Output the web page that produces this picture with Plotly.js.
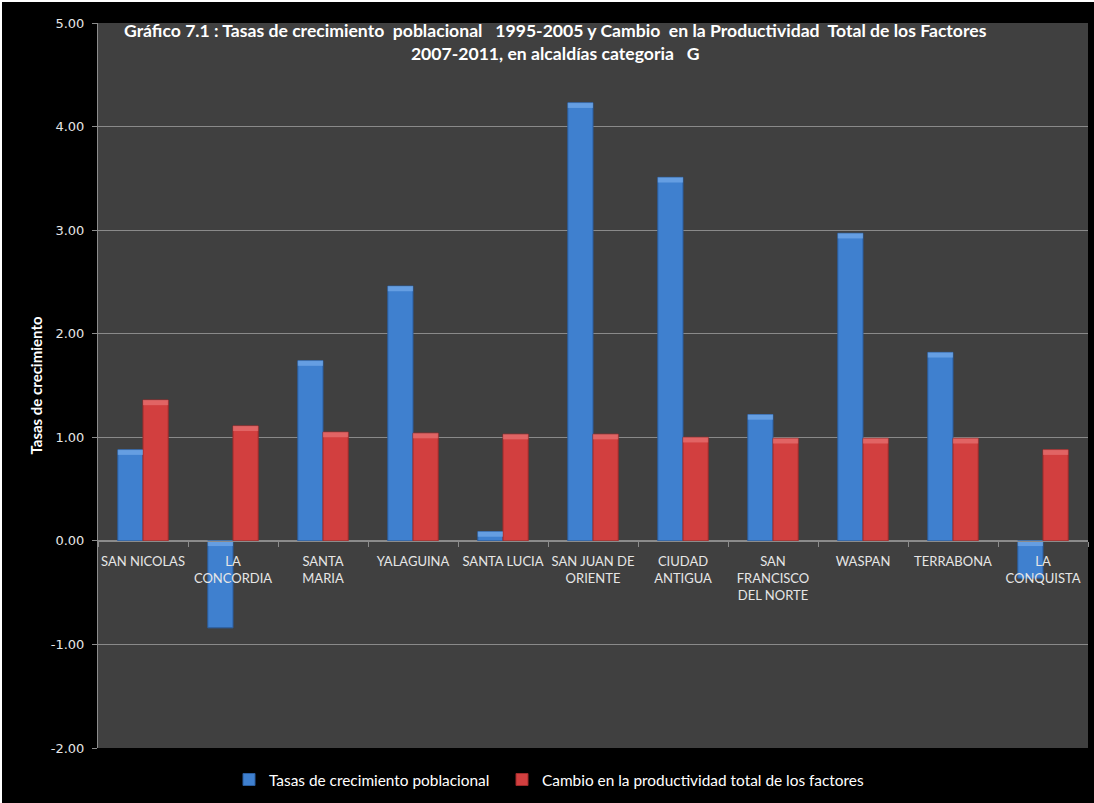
<!DOCTYPE html>
<html>
<head>
<meta charset="utf-8">
<script src="https://cdn.plot.ly/plotly-3.0.1.min.js"></script>
<style>
  html, body { margin: 0; padding: 0; background: #ffffff; }
  #chart { position: absolute; left: 2px; top: 2px; width: 1092px; height: 801px; }
</style>
</head>
<body>
<div id="chart"></div>
<script>
// Alcaldías categoría G
const municipios = [
  "SAN NICOLAS", "LA<br>CONCORDIA", "SANTA<br>MARIA", "YALAGUINA", "SANTA LUCIA",
  "SAN JUAN DE<br>ORIENTE", "CIUDAD<br>ANTIGUA", "SAN<br>FRANCISCO<br>DEL NORTE",
  "WASPAN", "TERRABONA", "LA<br>CONQUISTA"
];

// Tasas de crecimiento poblacional 1995-2005
const crecimiento = [0.88, -0.84, 1.74, 2.46, 0.09, 4.23, 3.51, 1.22, 2.97, 1.82, -0.36];

// Cambio en la productividad total de los factores 2007-2011
const productividad = [1.36, 1.11, 1.05, 1.04, 1.03, 1.03, 1.00, 0.99, 0.99, 0.99, 0.88];

const nombres = ["Tasas de crecimiento poblacional", "Cambio en la productividad total de los factores"];
const tickVals = [-2, -1, 0, 1, 2, 3, 4, 5];
const tickText = ["-2.00", "-1.00", "0.00", "1.00", "2.00", "3.00", "4.00", "5.00"];

const titulo = "Gráfico 7.1 : Tasas de crecimiento\u00a0 poblacional\u00a0\u00a0 1995-2005 y Cambio\u00a0 en la Productividad\u00a0 Total de los Factores<br>2007-2011, en alcaldías categoria\u00a0\u00a0 G";

const azul = "#3f80cf", azulBorde = "#2a5d9e", azulBrillo = "#7fb2ee";
const rojo = "#d23f3f", rojoBorde = "#9e2a2a", rojoBrillo = "#f08a8a";

// thin lighter band at the top edge of each bar (bevel look)
const bandaAlto = 0.05;
function bandaBase(vals) { return vals.map(v => Math.max(v, 0) - bandaAlto); }
function bandaLargo(vals) { return vals.map(() => bandaAlto); }

const traces = [
  {
    type: "bar", name: nombres[0], x: municipios, y: crecimiento,
    offsetgroup: "a", legend: "legend",
    marker: { color: azul, line: { color: azulBorde, width: 1 } },
    hoverinfo: "x+y"
  },
  {
    type: "bar", name: nombres[1], x: municipios, y: productividad,
    offsetgroup: "b", legend: "legend2",
    marker: { color: rojo, line: { color: rojoBorde, width: 1 } },
    hoverinfo: "x+y"
  },
  {
    type: "bar", x: municipios, y: bandaLargo(crecimiento), base: bandaBase(crecimiento),
    offsetgroup: "a", showlegend: false, hoverinfo: "skip",
    marker: { color: azulBrillo, opacity: 0.6, line: { width: 0 } }
  },
  {
    type: "bar", x: municipios, y: bandaLargo(productividad), base: bandaBase(productividad),
    offsetgroup: "b", showlegend: false, hoverinfo: "skip",
    marker: { color: rojoBrillo, opacity: 0.5, line: { width: 0 } }
  }
];

const familia = "Lato, 'Open Sans', sans-serif";

function leyenda(xPix) {
  return {
    orientation: "h",
    xref: "container", yref: "container",
    x: xPix / 1092, xanchor: "left",
    y: 1 - 778 / 801, yanchor: "middle",
    bgcolor: "rgba(0,0,0,0)",
    font: { family: familia, size: 15.4, color: "#ffffff" },
    itemwidth: 30
  };
}

const layout = {
  width: 1092, height: 801,
  paper_bgcolor: "#000000",
  plot_bgcolor: "#404040",
  margin: { l: 96, r: 6, t: 21, b: 55, pad: 0, autoexpand: false },
  barmode: "group",
  bargap: 0.44,
  bargroupgap: 0,
  showlegend: true,
  annotations: [{
    text: titulo,
    xref: "paper", yref: "paper",
    x: (555 - 98) / 990, xanchor: "center",
    y: 1, yanchor: "top", yshift: 5,
    showarrow: false, align: "center",
    font: { family: familia, size: 17.6, color: "#ffffff", weight: "bold" }
  }],
  xaxis: {
    anchor: "free", position: 2 / 7,
    showline: true, linecolor: "#8c8c8c", linewidth: 1.5,
    ticks: "outside", ticklen: 5, tickcolor: "#8c8c8c", tickson: "boundaries",
    tickangle: 0, ticklabelstandoff: 8,
    showgrid: false, zeroline: false,
    tickfont: { family: familia, size: 13, color: "#e6e6e6" },
    automargin: false,
    fixedrange: true
  },
  yaxis: {
    range: [-2, 5],
    tickvals: tickVals, ticktext: tickText,
    showgrid: true, gridcolor: "#8a8a8a", gridwidth: 1,
    zeroline: false,
    showline: true, linecolor: "#8c8c8c", linewidth: 1,
    ticks: "outside", ticklen: 5, tickcolor: "#8c8c8c",
    ticklabelstandoff: 5,
    tickfont: { family: "DejaVu Sans, sans-serif", size: 13, color: "#e6e6e6" },
    automargin: false,
    title: {
      text: "Tasas de crecimiento",
      standoff: 4,
      font: { family: familia, size: 15, color: "#ffffff", weight: "bold" }
    },
    fixedrange: true
  },
  legend: leyenda(227),
  legend2: leyenda(500)
};

Plotly.newPlot("chart", traces, layout, { displayModeBar: false, staticPlot: true });
</script>
</body>
</html>
